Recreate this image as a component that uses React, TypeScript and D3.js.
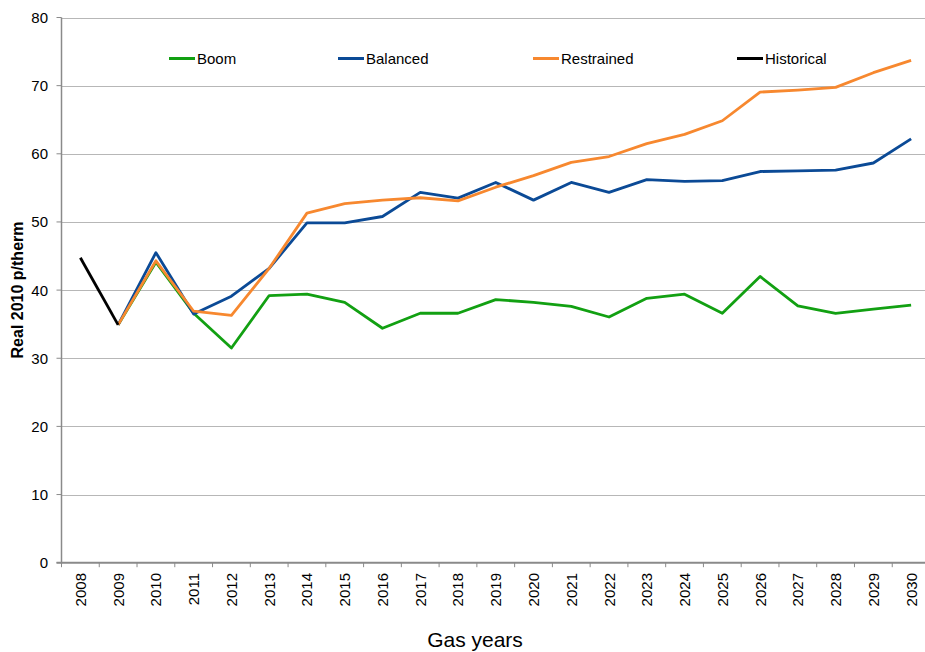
import React from "react";
import * as d3 from "d3";

const years = ["2008","2009","2010","2011","2012","2013","2014","2015","2016","2017","2018","2019","2020","2021","2022","2023","2024","2025","2026","2027","2028","2029","2030"];

const boom: (number | null)[] = [null, 34.9, 44.1, 36.6, 31.5, 39.2, 39.4, 38.2, 34.4, 36.6, 36.6, 38.6, 38.2, 37.6, 36.05, 38.8, 39.4, 36.6, 42.0, 37.7, 36.6, 37.2, 37.8];
const balanced: (number | null)[] = [null, 34.9, 45.5, 36.5, 39.1, 43.2, 49.85, 49.85, 50.8, 54.35, 53.5, 55.8, 53.2, 55.8, 54.35, 56.2, 55.95, 56.05, 57.4, 57.5, 57.6, 58.65, 62.2];
const restrained: (number | null)[] = [null, 34.9, 44.3, 36.9, 36.3, 43.2, 51.3, 52.7, 53.2, 53.55, 53.1, 55.1, 56.8, 58.75, 59.6, 61.5, 62.85, 64.85, 69.05, 69.35, 69.75, 71.9, 73.7];
const historical: (number | null)[] = [44.75, 34.9, null, null, null, null, null, null, null, null, null, null, null, null, null, null, null, null, null, null, null, null, null];

const yTicks = [0, 10, 20, 30, 40, 50, 60, 70, 80];

const seriesNames = ["Boom", "Balanced", "Restrained", "Historical"];
const seriesData = [boom, balanced, restrained, historical];
const seriesColors = ["#12A012", "#0B4A96", "#F7882F", "#000000"];

const W = 925;
const H = 652;
const left = 61.5;
const right = 930;
const top = 17.5;
const bottom = 562.7;

export default function App() {
  const x = d3.scaleBand<string>().domain(years).range([left, right]);
  const y = d3.scaleLinear().domain([0, 80]).range([bottom, top]);
  const cx = (yr: string) => (x(yr) as number) + x.bandwidth() / 2;

  const line = d3
    .line<number | null>()
    .defined((d) => d !== null)
    .x((_, i) => cx(years[i]))
    .y((d) => y(d as number));

  const legendX = [169, 338, 533, 737];
  const font = "Arial, 'Liberation Sans', sans-serif";

  return (
    <svg width={W} height={H} style={{ position: "absolute", left: 0, top: 0, background: "#fff" }} fontFamily={font}>
      <rect x={0} y={0} width={W} height={H} fill="#fff" />
      {/* gridlines */}
      {yTicks.filter((t) => t > 0).map((t) => (
        <line key={t} x1={left} x2={W} y1={Math.round(y(t)) + 0.5} y2={Math.round(y(t)) + 0.5} stroke="#6e6e6e" strokeWidth={1} strokeDasharray="1,1" />
      ))}
      {/* y axis */}
      <line x1={left} x2={left} y1={top} y2={bottom + 1} stroke="#8a8a8a" strokeWidth={1.5} />
      {yTicks.map((t) => (
        <g key={t}>
          <line x1={left - 5} x2={left} y1={y(t)} y2={y(t)} stroke="#8a8a8a" strokeWidth={1} />
          <text x={48} y={y(t)} dy="0.36em" textAnchor="end" fontSize={15} fill="#000">{t}</text>
        </g>
      ))}
      {/* x axis */}
      <line x1={left - 5} x2={W} y1={bottom} y2={bottom} stroke="#8a8a8a" strokeWidth={2} />
      {years.map((yr) => (
        <line key={"t" + yr} x1={(x(yr) as number)} x2={(x(yr) as number)} y1={bottom} y2={bottom + 4.5} stroke="#8a8a8a" strokeWidth={1} />
      ))}
      {years.map((yr) => (
        <text key={"l" + yr} transform={`translate(${cx(yr) + 5.5},${573}) rotate(-90)`} textAnchor="end" fontSize={15} fill="#000">{yr}</text>
      ))}
      {/* series */}
      {seriesData.map((s, i) => (
        <path key={seriesNames[i]} d={line(s) || ""} fill="none" stroke={seriesColors[i]} strokeWidth={2.8} strokeLinejoin="round" />
      ))}
      {/* legend */}
      {seriesNames.map((n, i) => (
        <g key={"lg" + n}>
          <line x1={legendX[i]} x2={legendX[i] + 26} y1={58.5} y2={58.5} stroke={seriesColors[i]} strokeWidth={3} />
          <text x={legendX[i] + 28} y={58.5} dy="0.36em" fontSize={15} fill="#000">{n}</text>
        </g>
      ))}
      {/* axis titles */}
      <text transform={`translate(23,290) rotate(-90)`} textAnchor="middle" fontSize={16} fontWeight="bold" fill="#000">Real 2010 p/therm</text>
      <text x={475} y={647} textAnchor="middle" fontSize={21} fill="#000">Gas years</text>
    </svg>
  );
}
